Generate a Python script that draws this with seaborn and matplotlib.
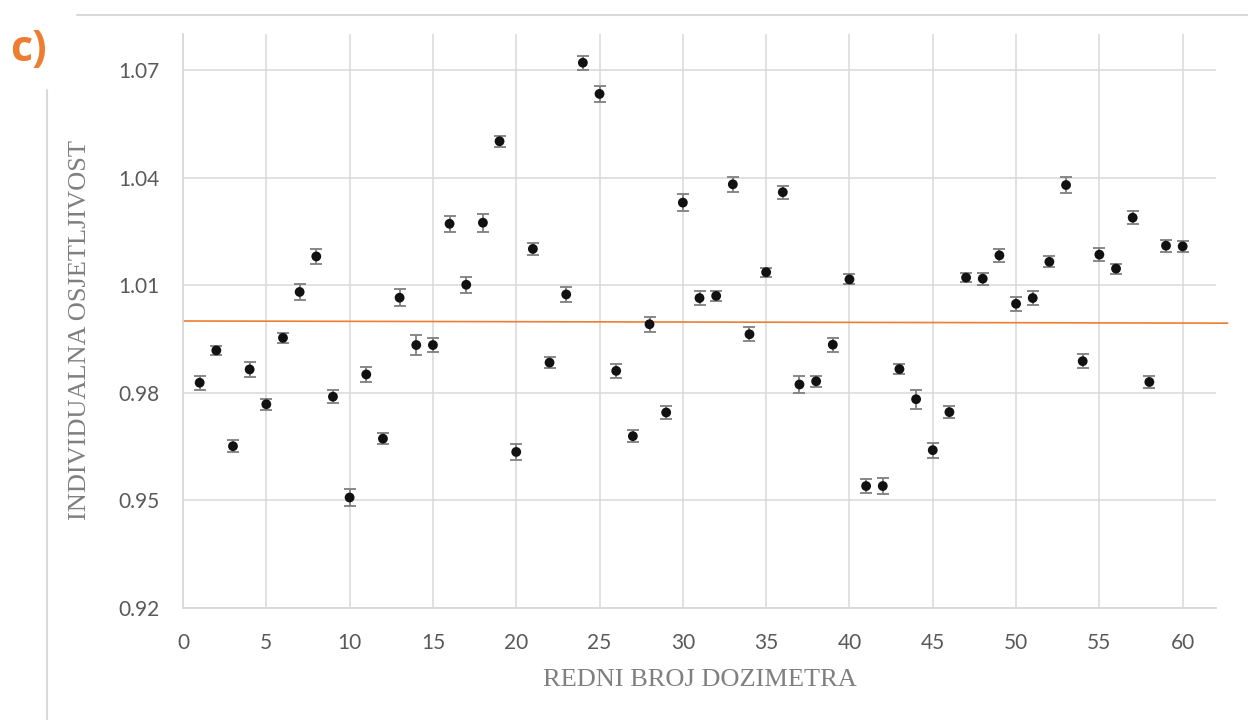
import pandas as pd
import seaborn as sns
import matplotlib.pyplot as plt
from matplotlib.lines import Line2D
from matplotlib.ticker import MultipleLocator, FixedLocator

# podaci ocitani sa slike
dozimetar = list(range(1, 61))
osjetljivost = [
    0.9828, 0.9918, 0.9651, 0.9865, 0.9768, 0.9953, 1.0081, 1.0180, 0.9789, 0.9508,
    0.9851, 0.9672, 1.0065, 0.9933, 0.9933, 1.0271, 1.0101, 1.0274, 1.0501, 0.9635,
    1.0201, 0.9884, 1.0074, 1.0720, 1.0633, 0.9861, 0.9679, 0.9991, 0.9745, 1.0330,
    1.0064, 1.0070, 1.0381, 0.9963, 1.0136, 1.0359, 0.9823, 0.9832, 0.9934, 1.0116,
    0.9540, 0.9540, 0.9866, 0.9782, 0.9640, 0.9746, 1.0121, 1.0118, 1.0183, 1.0048,
    1.0064, 1.0165, 1.0379, 0.9888, 1.0185, 1.0146, 1.0288, 0.9830, 1.0210, 1.0208,
]
greska = [
    0.0020, 0.0012, 0.0017, 0.0021, 0.0015, 0.0014, 0.0023, 0.0020, 0.0018, 0.0025,
    0.0021, 0.0015, 0.0023, 0.0029, 0.0019, 0.0023, 0.0023, 0.0025, 0.0015, 0.0022,
    0.0017, 0.0016, 0.0021, 0.0020, 0.0023, 0.0019, 0.0017, 0.0021, 0.0017, 0.0024,
    0.0019, 0.0013, 0.0021, 0.0019, 0.0013, 0.0018, 0.0025, 0.0015, 0.0020, 0.0014,
    0.0020, 0.0021, 0.0013, 0.0026, 0.0021, 0.0017, 0.0013, 0.0017, 0.0018, 0.0020,
    0.0020, 0.0015, 0.0022, 0.0020, 0.0018, 0.0014, 0.0018, 0.0017, 0.0017, 0.0015,
]
trend_x = [0, 62.7]
trend_y = [1.0000, 0.9994]
y_ticks = [0.92, 0.95, 0.98, 1.01, 1.04, 1.07]

df = pd.DataFrame({"dozimetar": dozimetar, "osjetljivost": osjetljivost, "greska": greska})

sns.set_theme(style="white")
plt.rcParams["font.family"] = ["Lato", "DejaVu Sans"]

grid_c = "#d9d9d9"
text_c = "#595959"

fig = plt.figure(figsize=(12.48, 7.2), dpi=100)
ax = fig.add_axes([183 / 1248, 1 - 608 / 720, 1033 / 1248, 574 / 720])

# trend linija
ax.plot(trend_x, trend_y, color="#ED7D31", lw=1.2, clip_on=False, zorder=2)

# greske i tocke
ax.errorbar(df["dozimetar"], df["osjetljivost"], yerr=df["greska"], fmt="none",
            ecolor="#7f7f7f", elinewidth=1.3, capsize=4.5, capthick=1.3, zorder=3)
sns.scatterplot(data=df, x="dozimetar", y="osjetljivost", color="#111111", s=50,
                edgecolor="none", zorder=4, ax=ax, legend=False)

ax.set_xlim(0, 62)
ax.set_ylim(0.92, 1.08)
ax.xaxis.set_major_locator(MultipleLocator(5))
ax.xaxis.set_minor_locator(MultipleLocator(1))
ax.yaxis.set_major_locator(FixedLocator(y_ticks))
ax.yaxis.set_minor_locator(MultipleLocator(0.01))
ax.set_yticklabels([f"{v:.2f}" for v in y_ticks])

ax.grid(True, which="major", color=grid_c, lw=1.1)
ax.set_axisbelow(True)
ax.tick_params(which="major", length=0, labelsize=15, labelcolor=text_c)
ax.tick_params(axis="x", which="major", pad=18)
ax.tick_params(axis="y", which="major", pad=17)
ax.tick_params(which="minor", direction="in", length=5, width=1.1, color=grid_c)

for side in ["top", "right"]:
    ax.spines[side].set_visible(False)
for side in ["left", "bottom"]:
    ax.spines[side].set_color(grid_c)
    ax.spines[side].set_linewidth(1.3)

ax.set_xlabel("")
ax.set_ylabel("")
fig.text(0.5 * (183 + 1216) / 1248, 1 - 680 / 720, "REDNI BROJ DOZIMETRA",
         family="Liberation Serif", fontsize=19, color="#7f7f7f", ha="center", va="center")
fig.text(80 / 1248, 1 - 330 / 720, "INDIVIDUALNA OSJETLJIVOST", rotation=90,
         family="Liberation Serif", fontsize=19, color="#7f7f7f", ha="center", va="center")

# oznaka panela i okvir dokumenta
fig.text(29 / 1248, 1 - 50 / 720, "c)", fontsize=31, fontweight="bold",
         family=["Open Sans", "DejaVu Sans"], color="#ED7D31", ha="center", va="center")
fig.add_artist(Line2D([77 / 1248, 1], [1 - 15 / 720, 1 - 15 / 720], color=grid_c, lw=1.5))
fig.add_artist(Line2D([47 / 1248, 47 / 1248], [1 - 90 / 720, 0], color=grid_c, lw=1.5))

fig.savefig("out.png", dpi=100)
